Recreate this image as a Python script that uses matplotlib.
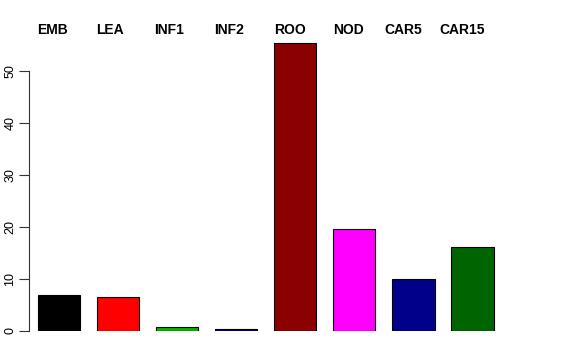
import matplotlib
matplotlib.use("Agg")
import matplotlib.pyplot as plt

# tissue samples and their values
samples = ["EMB", "LEA", "INF1", "INF2", "ROO", "NOD", "CAR5", "CAR15"]
values = [6.9, 6.5, 0.8, 0.4, 55.4, 19.6, 10.0, 16.2]
colors = ["#000000", "#FF0000", "#00B400", "#00008B",
          "#8B0000", "#FF00FF", "#00008B", "#006400"]
label_px = [52, 110, 169, 229, 290, 348, 403, 462]

W, H = 576, 360
fig = plt.figure(figsize=(W / 100, H / 100), dpi=100)
plt.rcParams['font.family'] = ['Liberation Sans', 'DejaVu Sans']

# axes placed in pixel terms: left 29, right 560, bottom 331, top 20
ax = fig.add_axes([29 / W, (H - 331) / H, (560 - 29) / W, (331 - 20) / H])
px_per_x = 42.2
px_per_y = 5.2
xs = [0.71 + 1.4 * i for i in range(len(samples))]
ax.bar(xs, values, width=1.0, color=colors, edgecolor="black", linewidth=0.8)

ax.set_xlim(0, (560 - 29) / px_per_x)
ax.set_ylim(0, (331 - 20) / px_per_y)

for s in ["top", "right", "bottom"]:
    ax.spines[s].set_visible(False)
ax.spines["left"].set_bounds(0, 50)
ax.spines["left"].set_color("#333333")
ax.spines["left"].set_linewidth(0.8)
ax.set_xticks([])
ax.set_yticks([0, 10, 20, 30, 40, 50])
ax.tick_params(axis="y", length=7, width=0.8, color="#333333", labelsize=9, pad=2)
for t in ax.get_yticklabels():
    t.set_rotation(90)
    t.set_va("center")

for name, x in zip(samples, label_px):
    fig.text(x / W, 1 - 30 / H, name, ha="center", va="center",
             fontsize=10, fontweight="bold")

fig.savefig("out.png", dpi=100)
